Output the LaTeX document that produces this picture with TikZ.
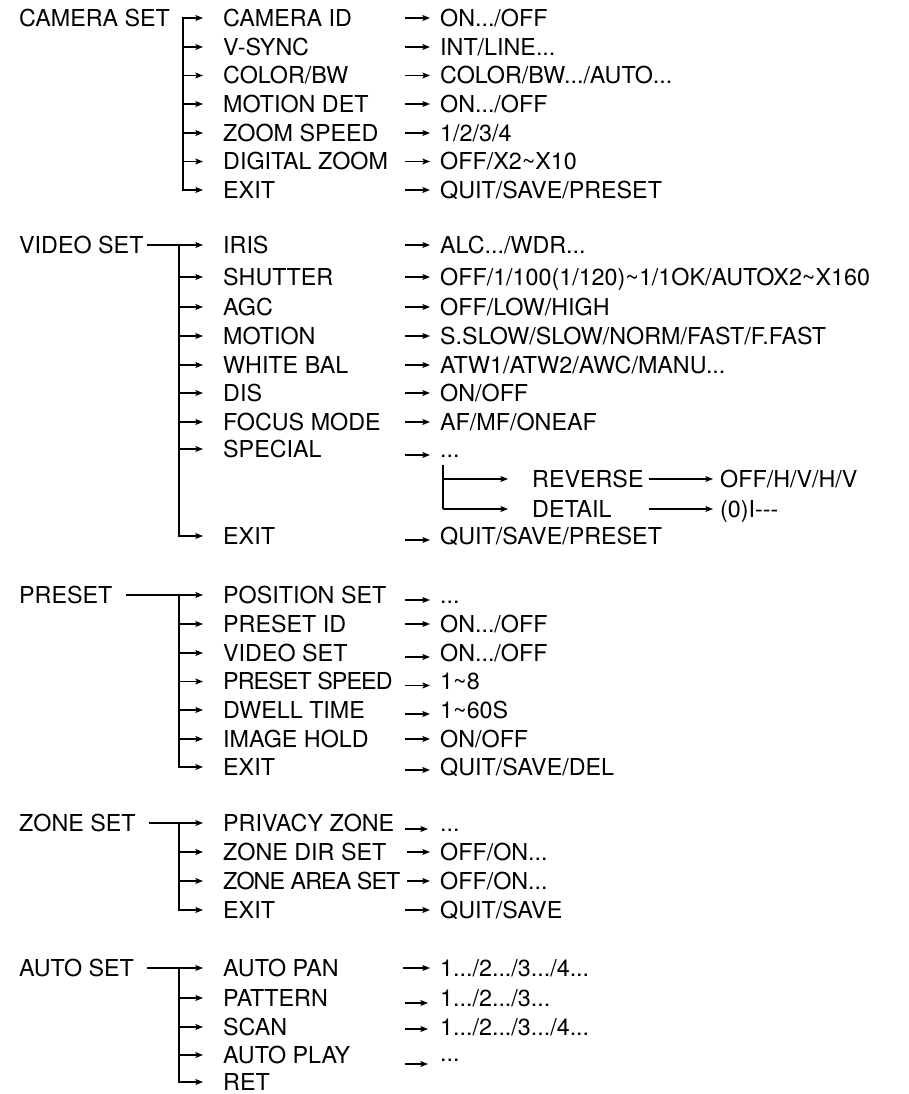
\documentclass[tikz,border=0pt]{standalone}
\usepackage{fontspec}
\setmainfont{TeX Gyre Heros}
\usepackage{tikz}
\usetikzlibrary{arrows.meta}

\begin{document}
\begin{tikzpicture}[x=1pt,y=-1pt,>={Stealth[length=7.5pt,width=5.8pt,inset=1.4pt]},
  lbl/.style={anchor=west,inner sep=0pt,text height=16.6pt,text depth=0pt,font=\fontsize{23.3}{28}\selectfont},
  snug/.style={font=\fontsize{23.3}{28}\selectfont\addfontfeatures{LetterSpace=-4}},
  conn/.style={line width=1.4pt}]
  \useasboundingbox (0,0) rectangle (908,1094);

  % camera set
  \node[lbl] (cam) at (19,18) {CAMERA SET};
  \node[lbl] (camid) at (223,18) {CAMERA ID};
  \node[lbl] (vsync) at (223,47) {V-SYNC};
  \node[lbl] (colbw) at (223,75.5) {COLOR/BW};
  \node[lbl] (motdet) at (223,104) {MOTION DET};
  \node[lbl] (zoomsp) at (223,133) {ZOOM SPEED};
  \node[lbl] (digzoom) at (223,161.5) {DIGITAL ZOOM};
  \node[lbl] (camexit) at (223,190) {EXIT};
  \node[lbl] (camidv) at (440,18) {ON.../OFF};
  \node[lbl] (vsyncv) at (440,47) {INT/LINE...};
  \node[lbl] (colbwv) at (440,75.5) {COLOR/BW.../AUTO...};
  \node[lbl] (motdetv) at (440,104) {ON.../OFF};
  \node[lbl] (zoomspv) at (440,133) {1/2/3/4};
  \node[lbl] (digzoomv) at (440,161.5) {OFF/X2\textasciitilde X10};
  \node[lbl] (camexitv) at (440,190) {QUIT/SAVE/PRESET};
  \coordinate (cambar) at (183,18);
  \draw[conn,->] (cambar |- zoomsp) -- (cambar |- camid) -- ([xshift=-20pt]camid.west);
  \draw[conn,->] (cambar |- vsync) -- ([xshift=-20pt]vsync.west);
  \draw[conn,->] (cambar |- colbw) -- ([xshift=-20pt]colbw.west);
  \draw[conn,->] (cambar |- motdet) -- ([xshift=-20pt]motdet.west);
  \draw[conn,->] (cambar |- zoomsp) -- ([xshift=-20pt]zoomsp.west);
  \draw[conn,->] (cambar |- digzoom) -- ([xshift=-20pt]digzoom.west);
  \draw[conn,->] (cambar |- zoomsp) -- (cambar |- camexit) -- ([xshift=-20pt]camexit.west);
  \draw[conn,->] ([xshift=-35pt]camidv.west) -- ([xshift=-10pt]camidv.west);
  \draw[conn,->] ([xshift=-35pt]vsyncv.west) -- ([xshift=-10pt]vsyncv.west);
  \draw[conn,->] ([xshift=-35pt]colbwv.west) -- ([xshift=-10pt]colbwv.west);
  \draw[conn,->] ([xshift=-35pt]motdetv.west) -- ([xshift=-10pt]motdetv.west);
  \draw[conn,->] ([xshift=-35pt]zoomspv.west) -- ([xshift=-10pt]zoomspv.west);
  \draw[conn,->] ([xshift=-35pt]digzoomv.west) -- ([xshift=-10pt]digzoomv.west);
  \draw[conn,->] ([xshift=-35pt]camexitv.west) -- ([xshift=-10pt]camexitv.west);

  % video set
  \node[lbl] (vid) at (19,245) {VIDEO SET};
  \node[lbl] (iris) at (223,245) {IRIS};
  \node[lbl] (shutter) at (223,277) {SHUTTER};
  \node[lbl] (agc) at (223,307) {AGC};
  \node[lbl] (motion) at (223,336) {MOTION};
  \node[lbl] (whitebal) at (223,365) {WHITE BAL};
  \node[lbl] (dis) at (223,393) {DIS};
  \node[lbl] (focus) at (223,422) {FOCUS MODE};
  \node[lbl] (special) at (223,449) {SPECIAL};
  \node[lbl] (reverse) at (532,479) {REVERSE};
  \node[lbl] (detail) at (532,509) {DETAIL};
  \node[lbl] (videxit) at (223,536) {EXIT};
  \node[lbl] (irisv) at (440,245) {ALC.../WDR...};
  \node[lbl] (shutterv) at (440,277) {OFF/1/100(1/120)\textasciitilde 1/1OK/AUTOX2\textasciitilde X160};
  \node[lbl] (agcv) at (440,307) {OFF/LOW/HIGH};
  \node[lbl] (motionv) at (440,336) {S.SLOW/SLOW/NORM/FAST/F.FAST};
  \node[lbl] (whitebalv) at (440,365) {ATW1/ATW2/AWC/MANU...};
  \node[lbl] (disv) at (440,393) {ON/OFF};
  \node[lbl] (focusv) at (440,422) {AF/MF/ONEAF};
  \node[lbl] (specialv) at (440,449) {...};
  \node[lbl] (reversev) at (720,479) {OFF/H/V/H/V};
  \node[lbl] (detailv) at (720,509) {(0)I-{}-{}-};
  \node[lbl] (videxitv) at (440,536) {QUIT/SAVE/PRESET};
  \coordinate (vidbar) at (179,245);
  \draw[conn,->] ([xshift=3pt]vid.east) -- ([xshift=-20pt]iris.west);
  \draw[conn] (vidbar |- iris) -- (vidbar |- focus);
  \draw[conn,->] (vidbar |- shutter) -- ([xshift=-20pt]shutter.west);
  \draw[conn,->] (vidbar |- agc) -- ([xshift=-20pt]agc.west);
  \draw[conn,->] (vidbar |- motion) -- ([xshift=-20pt]motion.west);
  \draw[conn,->] (vidbar |- whitebal) -- ([xshift=-20pt]whitebal.west);
  \draw[conn,->] (vidbar |- dis) -- ([xshift=-20pt]dis.west);
  \draw[conn,->] (vidbar |- focus) -- ([xshift=-20pt]focus.west);
  \draw[conn,->] (vidbar |- special) -- ([xshift=-20pt]special.west);
  \draw[conn,->] (vidbar |- focus) -- (vidbar |- videxit) -- ([xshift=-20pt]videxit.west);
  \draw[conn,->] ([xshift=-35pt]irisv.west) -- ([xshift=-10pt]irisv.west);
  \draw[conn,->] ([xshift=-35pt]shutterv.west) -- ([xshift=-10pt]shutterv.west);
  \draw[conn,->] ([xshift=-35pt]agcv.west) -- ([xshift=-10pt]agcv.west);
  \draw[conn,->] ([xshift=-35pt]motionv.west) -- ([xshift=-10pt]motionv.west);
  \draw[conn,->] ([xshift=-35pt]whitebalv.west) -- ([xshift=-10pt]whitebalv.west);
  \draw[conn,->] ([xshift=-35pt]disv.west) -- ([xshift=-10pt]disv.west);
  \draw[conn,->] ([xshift=-35pt]focusv.west) -- ([xshift=-10pt]focusv.west);
  \draw[conn,->] ([xshift=-35pt,yshift=-6pt]specialv.west) -- ([xshift=-10pt,yshift=-6pt]specialv.west);
  \draw[conn,->] ([xshift=-35pt,yshift=-4pt]videxitv.west) -- ([xshift=-10pt,yshift=-4pt]videxitv.west);
  % special sub menu
  \coordinate (spbar) at (443,465);
  \draw[conn] (spbar) -- (spbar |- detail);
  \draw[conn,->] (spbar |- reverse) -- ([xshift=-24pt]reverse.west);
  \draw[conn,->] (spbar |- detail) -- ([xshift=-24pt]detail.west);
  \draw[conn,->] ([xshift=5pt]reverse.east) -- ([xshift=-7pt]reversev.west);
  \draw[conn,->] ([xshift=5pt]reverse.east |- detail) -- ([xshift=-7pt]detailv.west);

  % preset
  \node[lbl] (pre) at (19,595) {PRESET};
  \node[lbl] (posset) at (223,595) {POSITION SET};
  \node[lbl] (preid) at (223,624) {PRESET ID};
  \node[lbl] (previd) at (223,653) {VIDEO SET};
  \node[lbl,snug] (prespeed) at (223,681.5) {PRESET SPEED};
  \node[lbl] (dwell) at (223,710) {DWELL TIME};
  \node[lbl] (imghold) at (223,739) {IMAGE HOLD};
  \node[lbl] (preexit) at (223,767) {EXIT};
  \node[lbl] (possetv) at (440,595) {...};
  \node[lbl] (preidv) at (440,624) {ON.../OFF};
  \node[lbl] (previdv) at (440,653) {ON.../OFF};
  \node[lbl] (prespeedv) at (440,681.5) {1\textasciitilde 8};
  \node[lbl] (dwellv) at (440,710) {1\textasciitilde 60S};
  \node[lbl] (imgholdv) at (440,739) {ON/OFF};
  \node[lbl] (preexitv) at (440,767) {QUIT/SAVE/DEL};
  \coordinate (prebar) at (179,595);
  \draw[conn,->] ([xshift=13pt]pre.east) -- ([xshift=-20pt]posset.west);
  \draw[conn] (prebar |- posset) -- (prebar |- imghold);
  \draw[conn,->] (prebar |- preid) -- ([xshift=-20pt]preid.west);
  \draw[conn,->] (prebar |- previd) -- ([xshift=-20pt]previd.west);
  \draw[conn,->] (prebar |- prespeed) -- ([xshift=-20pt]prespeed.west);
  \draw[conn,->] (prebar |- dwell) -- ([xshift=-20pt]dwell.west);
  \draw[conn,->] (prebar |- imghold) -- ([xshift=-20pt]imghold.west);
  \draw[conn,->] (prebar |- imghold) -- (prebar |- preexit) -- ([xshift=-20pt]preexit.west);
  \draw[conn,->] ([xshift=-35pt,yshift=-5pt]possetv.west) -- ([xshift=-10pt,yshift=-5pt]possetv.west);
  \draw[conn,->] ([xshift=-35pt]preidv.west) -- ([xshift=-10pt]preidv.west);
  \draw[conn,->] ([xshift=-35pt,yshift=-4pt]previdv.west) -- ([xshift=-10pt,yshift=-4pt]previdv.west);
  \draw[conn,->] ([xshift=-35pt,yshift=-4pt]prespeedv.west) -- ([xshift=-10pt,yshift=-4pt]prespeedv.west);
  \draw[conn,->] ([xshift=-35pt,yshift=-4pt]dwellv.west) -- ([xshift=-10pt,yshift=-4pt]dwellv.west);
  \draw[conn,->] ([xshift=-35pt]imgholdv.west) -- ([xshift=-10pt]imgholdv.west);
  \draw[conn,->] ([xshift=-35pt,yshift=-3pt]preexitv.west) -- ([xshift=-10pt,yshift=-3pt]preexitv.west);

  % zone set
  \node[lbl] (zone) at (19,823) {ZONE SET};
  \node[lbl] (privacy) at (223,823) {PRIVACY ZONE};
  \node[lbl] (zonedir) at (223,852) {ZONE DIR SET};
  \node[lbl,snug] (zonearea) at (223,881) {ZONE AREA SET};
  \node[lbl] (zoneexit) at (223,910) {EXIT};
  \node[lbl] (privacyv) at (440,823) {...};
  \node[lbl] (zonedirv) at (440,852) {OFF/ON...};
  \node[lbl] (zoneareav) at (440,881) {OFF/ON...};
  \node[lbl] (zoneexitv) at (440,910) {QUIT/SAVE};
  \coordinate (zonebar) at (179,823);
  \draw[conn,->] ([xshift=13pt]zone.east) -- ([xshift=-20pt]privacy.west);
  \draw[conn] (zonebar |- privacy) -- (zonebar |- zonearea);
  \draw[conn,->] (zonebar |- zonedir) -- ([xshift=-20pt]zonedir.west);
  \draw[conn,->] (zonebar |- zonearea) -- ([xshift=-20pt]zonearea.west);
  \draw[conn,->] (zonebar |- zonearea) -- (zonebar |- zoneexit) -- ([xshift=-20pt]zoneexit.west);
  \draw[conn,->] ([xshift=-35pt,yshift=-6pt]privacyv.west) -- ([xshift=-12pt,yshift=-6pt]privacyv.west);
  \draw[conn,->] ([xshift=-33pt]zonedirv.west) -- ([xshift=-10pt]zonedirv.west);
  \draw[conn,->] ([xshift=-33pt]zoneareav.west) -- ([xshift=-10pt]zoneareav.west);
  \draw[conn,->] ([xshift=-35pt]zoneexitv.west) -- ([xshift=-10pt]zoneexitv.west);

  % auto set
  \node[lbl] (auto) at (19,968) {AUTO SET};
  \node[lbl] (autopan) at (223,968) {AUTO PAN};
  \node[lbl] (pattern) at (223,998) {PATTERN};
  \node[lbl] (scan) at (223,1027) {SCAN};
  \node[lbl] (autoplay) at (223,1055) {AUTO PLAY};
  \node[lbl] (ret) at (223,1082) {RET};
  \node[lbl] (autopanv) at (440,968) {1.../2.../3.../4...};
  \node[lbl] (patternv) at (440,998) {1.../2.../3...};
  \node[lbl] (scanv) at (440,1027) {1.../2.../3.../4...};
  \node[lbl] (autoplayv) at (440,1053) {...};
  \coordinate (autobar) at (179,968);
  \draw[conn,->] ([xshift=13pt]auto.east) -- ([xshift=-20pt]autopan.west);
  \draw[conn] (autobar |- autopan) -- (autobar |- autoplay);
  \draw[conn,->] (autobar |- pattern) -- ([xshift=-20pt]pattern.west);
  \draw[conn,->] (autobar |- scan) -- ([xshift=-20pt]scan.west);
  \draw[conn,->] (autobar |- autoplay) -- ([xshift=-20pt]autoplay.west);
  \draw[conn,->] (autobar |- autoplay) -- (autobar |- ret) -- ([xshift=-20pt]ret.west);
  \draw[conn,->] ([xshift=-37pt]autopanv.west) -- ([xshift=-10pt]autopanv.west);
  \draw[conn,->] ([xshift=-35pt,yshift=-5pt]patternv.west) -- ([xshift=-12pt,yshift=-5pt]patternv.west);
  \draw[conn,->] ([xshift=-35pt,yshift=-2pt]scanv.west) -- ([xshift=-12pt,yshift=-2pt]scanv.west);
  \draw[conn,->] ([xshift=-35pt,yshift=-11pt]autoplayv.west) -- ([xshift=-12pt,yshift=-11pt]autoplayv.west);
\end{tikzpicture}
\end{document}
